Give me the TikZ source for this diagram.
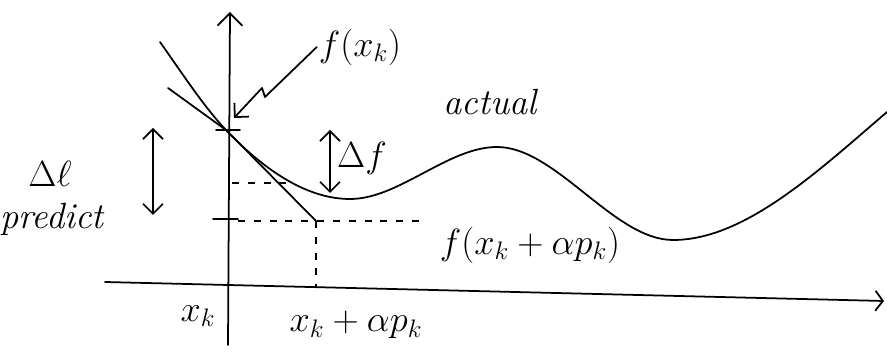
\documentclass[tikz,border=0pt]{standalone}
\usetikzlibrary{arrows.meta}
\begin{document}
\begin{tikzpicture}[x=0.02cm, y=-0.02cm,
    pen/.style={line width=1pt, line cap=round, line join=round},
    guide/.style={line width=0.7pt, dash pattern=on 4pt off 5pt},
    barb/.style={-{Straight Barb[length=2.5mm, width=5mm]}},
    dbl/.style={{Straight Barb[length=2mm, width=4mm]}-{Straight Barb[length=2mm, width=4mm]}},
    lab/.style={font=\huge, inner sep=1pt}
]
    \useasboundingbox (0,0) rectangle (887,354);

    % axes
    \coordinate (ybot) at (228,345);
    \coordinate (ytop) at (230,12);
    \coordinate (xl)   at (105,282);
    \coordinate (xr)   at (884,301);
    \draw[pen, barb] (ybot) -- (ytop);
    \draw[pen, -{Straight Barb[length=1.5mm, width=4mm]}] (xl) -- (xr);

    % points
    \coordinate (fx)    at (226,130);
    \coordinate (step)  at (316,221);
    \coordinate (tl)    at (168,88);
    \coordinate (stepx) at (316,287);

    % function
    \draw[pen] (160,42) .. controls (182,73) and (204,107) .. (fx)
        .. controls (267,173) and (309,199) .. (350,199)
        .. controls (399,199) and (448,147) .. (497,147)
        .. controls (556,147) and (614,240) .. (673,240)
        .. controls (744,240) and (816,173) .. (887,112);

    % model line
    \draw[pen] (tl) -- (fx) -- (step);

    % ticks and guides
    \draw[pen] (216,130) -- (240,130);
    \draw[pen] (213,219) -- (238,219);
    \draw[guide] (232,183) -- (292,183);
    \draw[guide] (238,221) -- (step) -- (420,221);
    \draw[guide] (step) -- (stepx);

    % differences
    \coordinate (dlt) at (153,128);
    \coordinate (dlb) at (153,215);
    \coordinate (dft) at (330,130);
    \coordinate (dfb) at (330,193);
    \draw[pen, dbl] (dlt) -- (dlb);
    \draw[pen, dbl] (dft) -- (dfb);

    % labels
    \node[lab] (fxlab)   at (360,47)  {$f(x_k)$};
    \node[lab] (actual)  at (490,102) {\itshape actual};
    \node[lab] (dflab)   at (362,158) {$\Delta f$};
    \node[lab] (dllab)   at (50,174)  {$\Delta\ell$};
    \node[lab] (predict) at (52,219)  {\itshape predict};
    \node[lab] (fslab)   at (530,245) {$f(x_k+\alpha p_k)$};
    \node[lab] (xklab)   at (198,316) {$x_k$};
    \node[lab] (xslab)   at (356,325) {$x_k+\alpha p_k$};

    % pointer to f(x_k)
    \draw[pen, -{Straight Barb[length=2mm, width=4mm]}]
        (fxlab.west) -- (265,97) -- (262,88) -- (234,118);
\end{tikzpicture}
\end{document}
